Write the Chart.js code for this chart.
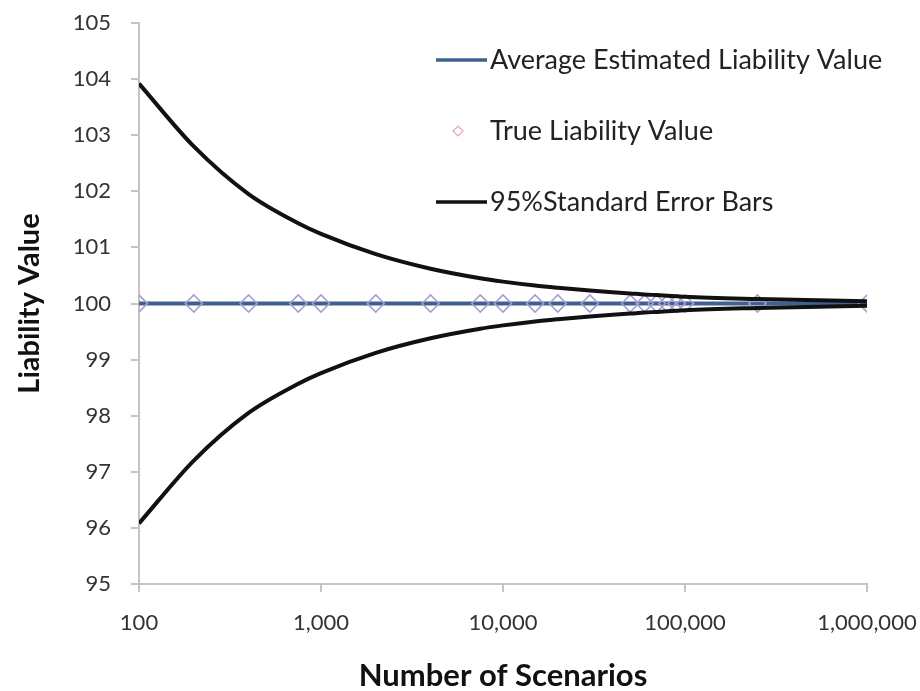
<!DOCTYPE html>
<html>
<head>
<meta charset="utf-8">
<script src="https://cdn.jsdelivr.net/npm/chart.js@4"></script>
<style>
  body { margin: 0; background: #fff; }
  #wrap { width: 920px; height: 691px; }
</style>
</head>
<body>
<div id="wrap"><canvas id="myChart" width="920" height="691"></canvas></div>
<script>
// x values (number of scenarios)
const scenarios = [100, 200, 400, 750, 1000, 2000, 4000, 7500, 10000, 15000, 20000, 30000,
    50000, 60000, 70000, 80000, 90000, 100000, 250000, 1000000];
// series
const averageEstimate = [100, 100, 100, 100, 100, 100, 100, 100, 100, 100, 100, 100,
    100, 100, 100, 100, 100, 100, 100, 100];
const trueValue = [100, 100, 100, 100, 100, 100, 100, 100, 100, 100, 100, 100,
    100, 100, 100, 100, 100, 100, 100, 100];
const upperBar = [103.92, 102.8, 101.95, 101.43, 101.24, 100.88, 100.62, 100.45, 100.39, 100.32,
    100.28, 100.23, 100.18, 100.16, 100.15, 100.14, 100.13, 100.12, 100.08, 100.04];
const lowerBar = [96.08, 97.2, 98.05, 98.57, 98.76, 99.12, 99.38, 99.55, 99.61, 99.68,
    99.72, 99.77, 99.82, 99.84, 99.85, 99.86, 99.87, 99.88, 99.92, 99.96];
// tick labels
const xTicks = [100, 1000, 10000, 100000, 1000000];
const yMin = 95, yMax = 105;

const font = "Lato, 'Open Sans', sans-serif";

function pts(values) {
    return scenarios.map((x, i) => ({x: x, y: values[i]}));
}

// legend drawn inside the plot, stacked with wide spacing
const sideLegend = {
    id: 'sideLegend',
    afterDraw(chart) {
        const ctx = chart.ctx;
        const ds = chart.data.datasets;
        const x0 = 436, x1 = 487, tx = 490;
        const rows = [60, 131, 202];
        ctx.save();
        ctx.font = "27px " + font;
        ctx.fillStyle = '#222';
        ctx.textBaseline = 'middle';
        // row 1: blue line
        ctx.strokeStyle = ds[0].borderColor;
        ctx.lineWidth = 3.5;
        ctx.beginPath(); ctx.moveTo(x0, rows[0]); ctx.lineTo(x1, rows[0]); ctx.stroke();
        ctx.fillText(ds[0].label, tx, rows[0]);
        // row 2: diamond marker
        ctx.strokeStyle = '#e6a6ae';
        ctx.lineWidth = 1.2;
        ctx.beginPath();
        ctx.moveTo(458, rows[1] - 5); ctx.lineTo(463, rows[1]);
        ctx.lineTo(458, rows[1] + 5); ctx.lineTo(453, rows[1]); ctx.closePath();
        ctx.stroke();
        ctx.fillText(ds[1].label, tx, rows[1]);
        // row 3: black line
        ctx.strokeStyle = ds[2].borderColor;
        ctx.lineWidth = 3.5;
        ctx.beginPath(); ctx.moveTo(x0, rows[2]); ctx.lineTo(x1, rows[2]); ctx.stroke();
        ctx.fillText(ds[2].label, tx, rows[2]);
        ctx.restore();
    }
};

const ctx = document.getElementById('myChart');
const myChart = new Chart(ctx, {
    type: 'line',
    data: {
        datasets: [
            {
                label: 'Average Estimated Liability Value',
                data: pts(averageEstimate),
                borderColor: '#3f6090',
                borderWidth: 4,
                pointRadius: 0,
                fill: false,
                order: 3
            },
            {
                label: 'True Liability Value',
                data: pts(trueValue),
                showLine: false,
                pointStyle: 'rectRot',
                pointRadius: 8.5,
                borderWidth: 1.6,
                borderColor: '#aa9cd2',
                backgroundColor: 'rgba(255,255,255,0)',
                order: 2
            },
            {
                label: '95%Standard Error Bars',
                data: pts(upperBar),
                borderColor: '#111',
                borderWidth: 4,
                pointRadius: 0,
                cubicInterpolationMode: 'monotone',
                fill: false,
                order: 1
            },
            {
                label: 'lower',
                data: pts(lowerBar),
                borderColor: '#111',
                borderWidth: 4,
                pointRadius: 0,
                cubicInterpolationMode: 'monotone',
                fill: false,
                order: 1
            }
        ]
    },
    options: {
        responsive: false,
        animation: false,
        layout: {padding: {left: 0, top: 23, right: 53, bottom: 0}},
        plugins: {
            legend: {display: false},
            tooltip: {enabled: false}
        },
        scales: {
            x: {
                type: 'logarithmic',
                min: 100,
                max: 1000000,
                afterBuildTicks: (scale) => { scale.ticks = xTicks.map(v => ({value: v})); },
                afterFit: (scale) => {
                    scale.height = 107;
                    scale.paddingLeft = 0;
                    scale.paddingRight = 0;
                },
                grid: {drawOnChartArea: false, drawTicks: true, tickLength: 8, color: '#c4c4c4', lineWidth: 2},
                border: {color: '#c4c4c4', width: 2},
                ticks: {
                    padding: 18,
                    maxRotation: 0,
                    color: '#333',
                    font: {family: font, size: 22},
                    callback: (v) => Number(v).toLocaleString('en-US')
                },
                title: {
                    display: true,
                    text: 'Number of Scenarios',
                    color: '#111',
                    font: {family: font, size: 31, weight: 'bold'},
                    padding: {top: 0, bottom: -4}
                }
            },
            y: {
                min: yMin,
                max: yMax,
                afterFit: (scale) => {
                    scale.width = 139;
                    scale.paddingTop = 0;
                    scale.paddingBottom = 0;
                },
                grid: {drawOnChartArea: false, drawTicks: true, tickLength: 8, color: '#c4c4c4', lineWidth: 2},
                border: {color: '#c4c4c4', width: 2},
                ticks: {
                    stepSize: 1,
                    padding: 20,
                    color: '#333',
                    font: {family: font, size: 22}
                },
                title: {
                    display: true,
                    text: 'Liability Value',
                    color: '#111',
                    font: {family: font, size: 29, weight: 'bold'},
                    padding: {top: 12, bottom: 0}
                }
            }
        }
    },
    plugins: [sideLegend]
});
</script>
</body>
</html>
